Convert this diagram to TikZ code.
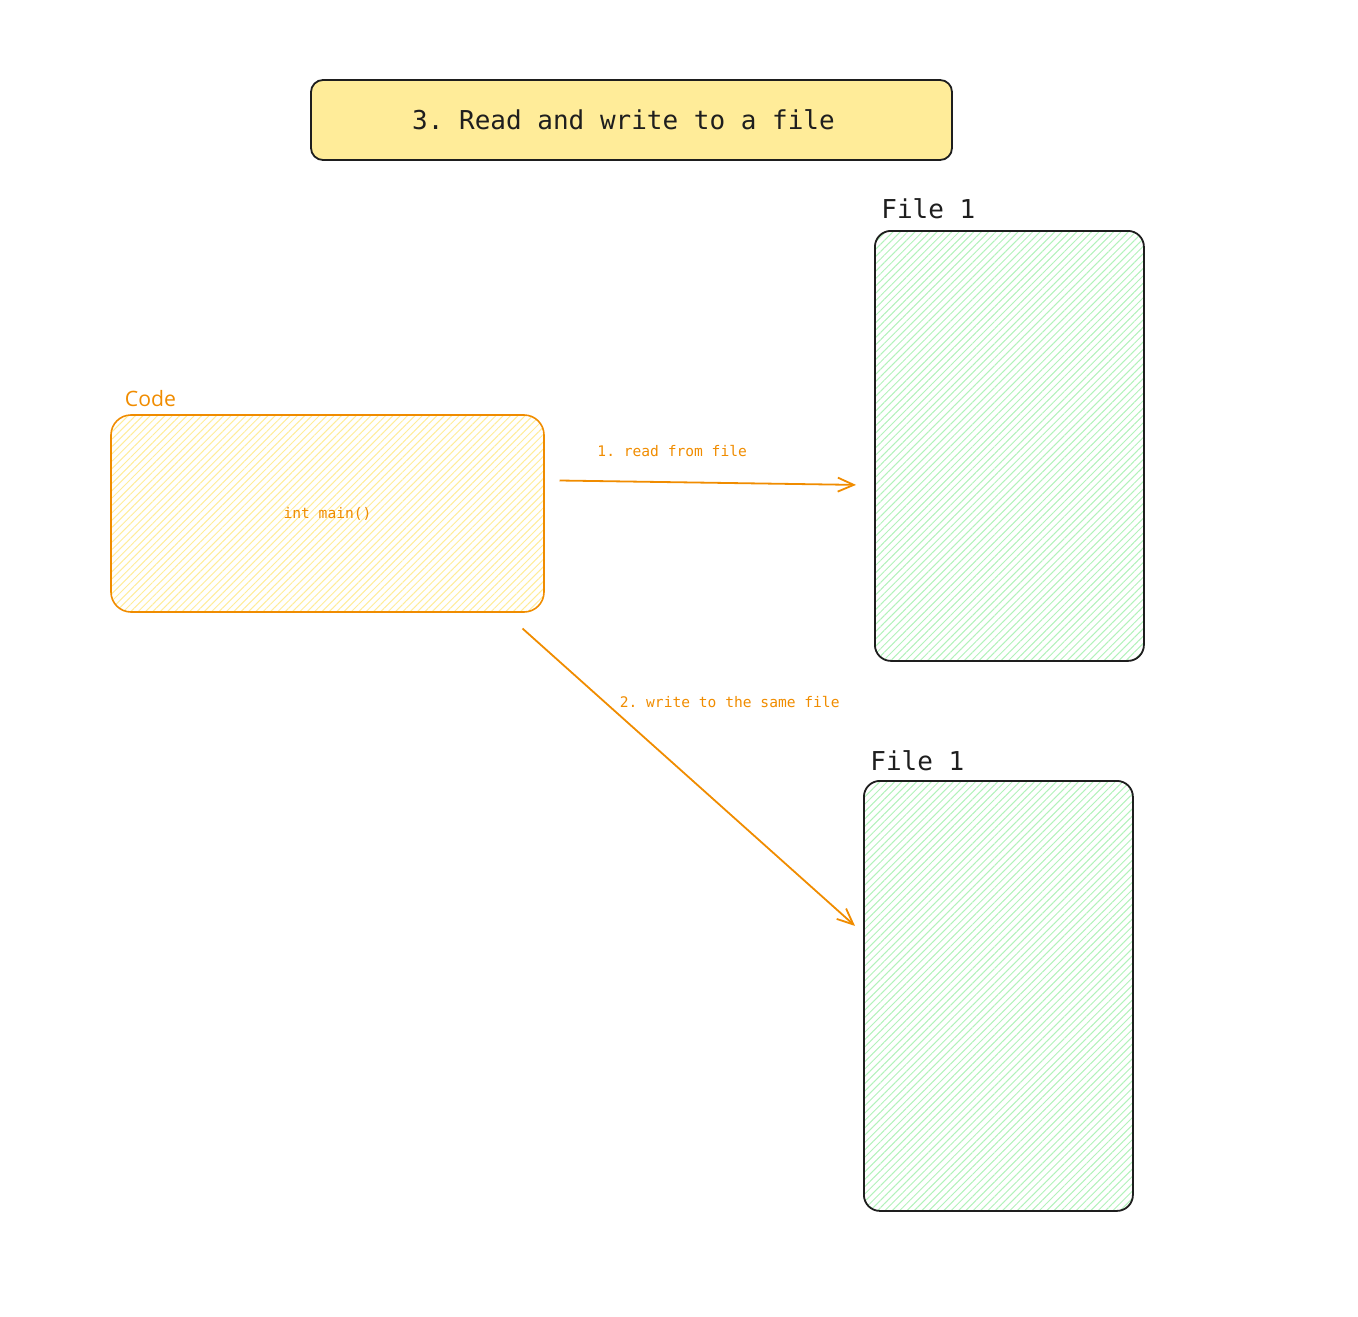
\documentclass[tikz,border=0pt]{standalone}
\usepackage{fontspec}
\setmainfont{DejaVu Sans}
\setsansfont{Open Sans}
\setmonofont{DejaVu Sans Mono}
\usepackage{tikz}
\usetikzlibrary{arrows.meta,positioning,calc,patterns.meta}
\definecolor{strokedark}{HTML}{1E1E1E}
\definecolor{titleyellow}{HTML}{FFEC99}
\definecolor{codeorange}{HTML}{F08C00}
\definecolor{hatchyellow}{HTML}{FFEC99}
\definecolor{hatchgreen}{HTML}{B2F2BB}

\begin{document}
\begin{tikzpicture}[x=0.5pt, y=-0.5pt]
\tikzset{
  titlebox/.style={draw=strokedark, fill=titleyellow, line width=0.9pt, rounded corners=6pt, minimum width=320.5pt, minimum height=40pt, font=\ttfamily\fontsize{13}{15}\selectfont, text=strokedark},
  codebox/.style={draw=codeorange, line width=0.8pt, rounded corners=10pt, pattern={Lines[angle=45, distance=2.6pt, line width=0.5pt]}, pattern color=hatchyellow, minimum width=216.5pt, minimum height=98.5pt, font=\ttfamily\fontsize{7.3}{9}\selectfont, text=codeorange},
  filebox/.style={draw=strokedark, line width=0.9pt, rounded corners=8pt, pattern={Lines[angle=45, distance=2.6pt, line width=0.5pt]}, pattern color=hatchgreen, minimum width=134.5pt, minimum height=215pt, anchor=north west},
  filelbl/.style={inner sep=0pt, anchor=base west, font=\ttfamily\fontsize{13}{15}\selectfont, text=strokedark},
  codelbl/.style={inner sep=0pt, anchor=base west, font=\sffamily\fontsize{10.6}{12}\selectfont, text=codeorange},
  steplbl/.style={inner sep=0pt, font=\ttfamily\fontsize{7.3}{9}\selectfont, text=codeorange},
  flow/.style={draw=codeorange, line width=0.9pt, -{Straight Barb[length=8pt, width=7pt]}}
}
\useasboundingbox (0,0) rectangle (1358,1316);
% title and boxes
\node[titlebox] (title) at (631.5,120) {\hspace*{-8pt}3. Read and write to a file};
\node[codebox] (code) at (327.5,513.5) {int main()};
\node[filebox] (file1) at (874,230) {};
\node[filebox] (file2) at (863,780) {};
% labels
\node[codelbl] (codetitle) at ($(code.north west)+(14,-8)$) {Code};
\node[filelbl] (file1lbl) at ($(file1.north west)+(7,-11)$) {File 1};
\node[filelbl] (file2lbl) at ($(file2.north west)+(7,-10)$) {File 1};
% arrows
\coordinate (readfrom) at ($(code.east)+(15,-33)$);
\coordinate (readto) at ($(file1.west)+(-18,39)$);
\coordinate (writefrom) at ($(code.south east)+(-22,16)$);
\coordinate (writeto) at ($(file2.west)+(-8,-70)$);
\draw[flow] (readfrom) -- node[steplbl, pos=0.38, above=12.5pt] (readlbl) {1. read from file} (readto);
\draw[flow] (writefrom) -- node[steplbl, pos=0.29, anchor=base west, yshift=3.75pt] (writelbl) {2. write to the same file} (writeto);
\end{tikzpicture}
\end{document}
